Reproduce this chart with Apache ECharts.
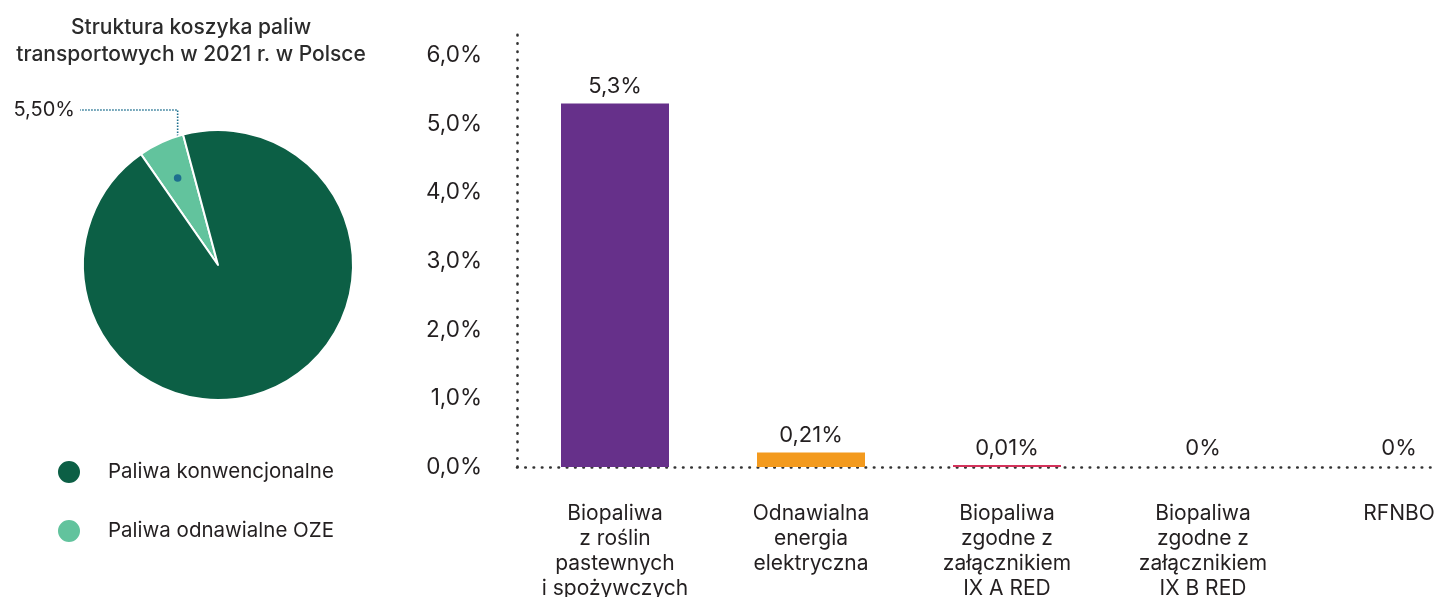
<!DOCTYPE html>
<html>
<head>
<meta charset="utf-8">
<script src="https://cdn.jsdelivr.net/npm/echarts@6/dist/echarts.min.js"></script>
<style>
  html, body { margin: 0; padding: 0; background: #ffffff; }
  #chart { width: 1437px; height: 597px; }
</style>
</head>
<body>
<div id="chart"></div>
<script>
// Transport fuel mix (pie) and renewable components (bars)
const pieTitle = 'Struktura koszyka paliw\ntransportowych w 2021 r. w Polsce';
const pieNames = ['Paliwa odnawialne OZE', 'Paliwa konwencjonalne'];
const pieValues = [5.5, 94.5];

const barCategories = [
  'Biopaliwa\nz roślin\npastewnych\ni spożywczych',
  'Odnawialna\nenergia\nelektryczna',
  'Biopaliwa\nzgodne z\nzałącznikiem\nIX A RED',
  'Biopaliwa\nzgodne z\nzałącznikiem\nIX B RED',
  'RFNBO'
];
const barValues = [5.3, 0.21, 0.01, 0, 0];
const barColors = ['#66308a', '#f39a1e', '#d3325a', 'transparent', 'transparent'];
const yTicks = [0, 1, 2, 3, 4, 5, 6];

const FONT = 'Inter, "Noto Sans", sans-serif';
const TEXT = '#231f20';
const DARK_GREEN = '#0c5f45';
const LIGHT_GREEN = '#62c39d';
const LEADER = '#1d6f8e';

// pie geometry
const PIE_CX = 218, PIE_CY = 265, PIE_R = 135;
const PIE_START = 124.8;
const LEADER_Y = 110, LEADER_END_X = 80;

const pieTotal = pieValues.reduce((a, b) => a + b, 0);
const ozeMid = (PIE_START - (pieValues[0] / pieTotal) * 360 / 2) * Math.PI / 180;
const dotX = PIE_CX + PIE_R * 0.71 * Math.cos(ozeMid);
const dotY = PIE_CY - PIE_R * 0.71 * Math.sin(ozeMid);

const fmtComma = (v, digits) => (digits == null ? String(v) : v.toFixed(digits)).replace('.', ',');

const chart = echarts.init(document.getElementById('chart'), null, { renderer: 'canvas' });

chart.setOption({
  backgroundColor: '#ffffff',
  animation: false,
  title: {
    text: pieTitle,
    left: 186,
    top: 9,
    textAlign: 'center',
    textStyle: {
      fontFamily: FONT,
      fontSize: 21,
      fontWeight: 500,
      lineHeight: 27,
      color: '#2b2b2b'
    }
  },
  legend: {
    orient: 'vertical',
    left: 51,
    top: 454,
    icon: 'circle',
    itemWidth: 68,
    itemHeight: 24,
    itemGap: 33,
    data: [pieNames[1], pieNames[0]],
    textStyle: { fontFamily: FONT, fontSize: 20.5, color: TEXT }
  },
  grid: {
    left: 517,
    width: 980,
    top: 28,
    bottom: 130,
    containLabel: false,
    outerBoundsMode: 'none'
  },
  xAxis: {
    type: 'category',
    data: barCategories,
    axisTick: { show: false },
    axisLine: {
      show: true,
      lineStyle: { color: '#333333', width: 2.6, type: [0.5, 7.8], cap: 'round' }
    },
    axisLabel: {
      interval: 0,
      margin: 34,
      fontFamily: FONT,
      fontSize: 21,
      lineHeight: 25,
      color: TEXT,
      align: 'center'
    }
  },
  yAxis: {
    type: 'value',
    min: 0,
    max: 6.4,
    interval: 1,
    splitLine: { show: false },
    axisTick: { show: false },
    axisLine: {
      show: true,
      lineStyle: { color: '#333333', width: 2.6, type: [0.5, 7.8], cap: 'round' }
    },
    axisLabel: {
      margin: 35,
      showMaxLabel: false,
      fontFamily: FONT,
      fontSize: 22.5,
      color: TEXT,
      formatter: v => (yTicks.indexOf(v) >= 0 ? fmtComma(v, 1) + '%' : '')
    }
  },
  series: [
    {
      type: 'pie',
      center: [PIE_CX, PIE_CY],
      radius: PIE_R,
      startAngle: PIE_START,
      clockwise: true,
      avoidLabelOverlap: false,
      emphasis: { disabled: true },
      itemStyle: { borderColor: '#ffffff', borderWidth: 2 },
      data: pieNames.map((name, i) => ({
        name: name,
        value: pieValues[i],
        itemStyle: { color: i === 0 ? LIGHT_GREEN : DARK_GREEN },
        label: { show: i === 0 },
        labelLine: { show: i === 0 }
      })),
      label: {
        position: 'outside',
        fontFamily: FONT,
        fontSize: 20,
        color: TEXT,
        formatter: p => fmtComma(p.value, 2) + '%'
      },
      labelLine: {
        show: true,
        lineStyle: { color: LEADER, width: 1.6, type: [1.5, 1.5] }
      },
      labelLayout: function (p) {
        if (p.dataIndex !== 0) return {};
        return {
          x: LEADER_END_X - 5,
          y: LEADER_Y,
          align: 'right',
          verticalAlign: 'middle',
          labelLinePoints: [[dotX, dotY], [dotX, LEADER_Y], [LEADER_END_X, LEADER_Y]]
        };
      }
    },
    {
      type: 'bar',
      barWidth: 108,
      barMinHeight: 2,
      data: barValues.map((v, i) => ({ value: v, itemStyle: { color: barColors[i] } })),
      label: {
        show: true,
        position: 'top',
        distance: 6,
        fontFamily: FONT,
        fontSize: 22,
        color: TEXT,
        formatter: p => fmtComma(p.value) + '%'
      }
    }
  ],
  graphic: [
    {
      type: 'circle',
      shape: { cx: dotX, cy: dotY, r: 3.8 },
      style: { fill: LEADER },
      z: 100
    }
  ]
});
</script>
</body>
</html>
